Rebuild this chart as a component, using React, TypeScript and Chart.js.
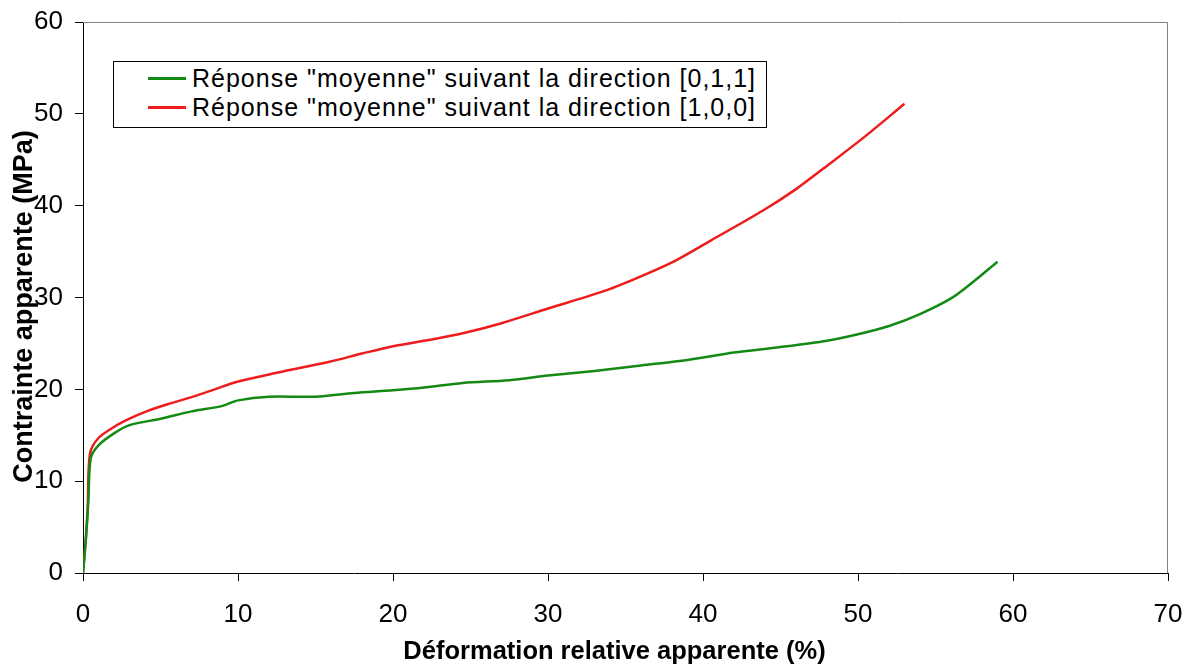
import React, { useEffect, useRef } from "react";
import { Chart, registerables } from "chart.js";

Chart.register(...registerables);

// ---- Data ----
const seriesLabels = [
  'Réponse "moyenne" suivant la direction [0,1,1]',
  'Réponse "moyenne" suivant la direction [1,0,0]',
];
const seriesColors = ["#138a13", "#ee1c1c"];

const strainGreen = [0, 0.2, 0.35, 0.5, 1.0, 2.0, 3.0, 5.0, 7.0, 9.0, 10.0, 12.0, 15.0, 17.5, 20.0, 22.0, 24.5, 27.5, 30.0, 33.0, 36.0, 39.0, 42.0, 45.0, 48.0, 50.0, 52.0, 54.0, 56.0, 57.5, 59.0];
const stressGreen = [0, 4, 8, 12.5, 13.9, 15.2, 16.1, 16.8, 17.6, 18.2, 18.8, 19.2, 19.2, 19.6, 19.9, 20.2, 20.7, 21.0, 21.5, 22.0, 22.6, 23.2, 24.0, 24.6, 25.3, 26.0, 26.9, 28.2, 29.9, 31.8, 33.9];

const strainRed = [0, 0.15, 0.3, 0.45, 1.0, 2.0, 3.0, 4.1, 5.5, 7.1, 8.5, 9.9, 12.5, 15.9, 18.0, 20.0, 22.4, 24.5, 27.0, 30.0, 33.8, 36.0, 38.1, 40.5, 43.9, 46.0, 48.2, 50.5, 53.0];
const stressRed = [0, 3, 7, 13.0, 14.7, 15.9, 16.8, 17.6, 18.4, 19.2, 20.0, 20.8, 21.8, 23.0, 23.9, 24.7, 25.4, 26.1, 27.2, 28.8, 30.8, 32.3, 33.9, 36.2, 39.5, 41.8, 44.6, 47.6, 51.1];

const xTitle = "Déformation relative apparente (%)";
const yTitle = "Contrainte apparente (MPa)";
const xMin = 0, xMax = 70, xStep = 10;
const yMin = 0, yMax = 60, yStep = 10;

const FONT = '"Liberation Sans", Arial, sans-serif';

const framePlugin = {
  id: "frame",
  afterDraw(chart: any) {
    const { ctx, chartArea } = chart;
    ctx.save();
    ctx.strokeStyle = "#808080";
    ctx.lineWidth = 1;
    ctx.beginPath();
    ctx.moveTo(chartArea.left, chartArea.top + 0.5);
    ctx.lineTo(chartArea.right - 0.5, chartArea.top + 0.5);
    ctx.lineTo(chartArea.right - 0.5, chartArea.bottom);
    ctx.stroke();
    ctx.restore();
  },
};

// Axis titles, placed as in the reference (slightly off-centre)
const titlesPlugin = {
  id: "axisTitles",
  afterDraw(chart: any) {
    const { ctx, chartArea } = chart;
    ctx.save();
    ctx.fillStyle = "#000";
    ctx.textAlign = "center";
    ctx.textBaseline = "middle";
    ctx.font = `bold 25.5px ${FONT}`;
    ctx.fillText(xTitle, (chartArea.left + chartArea.right) / 2 - 11, chart.height - 14);
    ctx.translate(25, (chartArea.top + chartArea.bottom) / 2 + 9);
    ctx.rotate(-Math.PI / 2);
    ctx.font = `bold 27px ${FONT}`;
    ctx.fillText(yTitle, 0, 0);
    ctx.restore();
  },
};

const zeroPad = (s: any) => {
  s.paddingTop = 0;
  s.paddingBottom = 0;
  s.paddingLeft = 0;
  s.paddingRight = 0;
};

export default function App() {
  const canvasRef = useRef<HTMLCanvasElement | null>(null);

  useEffect(() => {
    const canvas = canvasRef.current;
    if (!canvas) return;
    const toPoints = (xs: number[], ys: number[]) => xs.map((x, i) => ({ x, y: ys[i] }));
    const chart = new Chart(canvas, {
      type: "line",
      data: {
        datasets: [
          {
            label: seriesLabels[0],
            data: toPoints(strainGreen, stressGreen),
            borderColor: seriesColors[0],
            backgroundColor: seriesColors[0],
            borderWidth: 2.5,
            pointRadius: 0,
            tension: 0.3,
            fill: false,
          },
          {
            label: seriesLabels[1],
            data: toPoints(strainRed, stressRed),
            borderColor: seriesColors[1],
            backgroundColor: seriesColors[1],
            borderWidth: 2.5,
            pointRadius: 0,
            tension: 0.3,
            fill: false,
          },
        ],
      },
      options: {
        responsive: false,
        animation: false,
        layout: { padding: { top: 22, right: 23, left: 0, bottom: 0 } },
        plugins: {
          legend: { display: false },
          tooltip: { enabled: false },
        },
        scales: {
          x: {
            type: "linear",
            min: xMin,
            max: xMax,
            ticks: { stepSize: xStep, color: "#000", font: { family: FONT, size: 26 }, padding: 18, maxRotation: 0 },
            grid: { drawOnChartArea: false, tickLength: 8, tickColor: "#000" },
            border: { color: "#000", width: 1 },
            title: { display: false, text: xTitle },
            afterFit: (s: any) => { s.height = 93; zeroPad(s); },
          },
          y: {
            type: "linear",
            min: yMin,
            max: yMax,
            ticks: { stepSize: yStep, color: "#000", font: { family: FONT, size: 26 }, padding: 12 },
            grid: { drawOnChartArea: false, tickLength: 8, tickColor: "#000" },
            border: { color: "#000", width: 1 },
            title: { display: false, text: yTitle },
            afterFit: (s: any) => { s.width = 83; zeroPad(s); },
          },
        },
      },
      plugins: [framePlugin, titlesPlugin],
    } as any);
    return () => chart.destroy();
  }, []);

  const rowStyle: React.CSSProperties = { display: "flex", alignItems: "center", height: 29 };
  return (
    <div style={{ position: "fixed", left: 0, top: 0, width: 1191, height: 666, background: "#fff" }}>
      <canvas ref={canvasRef} width={1191} height={666} style={{ display: "block" }} />
      <div
        style={{
          position: "absolute",
          left: 113,
          top: 61,
          width: 654,
          height: 67,
          border: "1px solid #000",
          boxSizing: "border-box",
          background: "#fff",
          paddingTop: 2,
          fontFamily: FONT,
          fontSize: 25,
          color: "#000",
          whiteSpace: "nowrap",
        }}
      >
        {seriesLabels.map((label, i) => (
          <div key={i} style={rowStyle}>
            <span style={{ display: "inline-block", marginLeft: 34, width: 38, height: 2.5, background: seriesColors[i] }} />
            <span style={{ marginLeft: 6, letterSpacing: 1 }}>{label}</span>
          </div>
        ))}
      </div>
    </div>
  );
}
